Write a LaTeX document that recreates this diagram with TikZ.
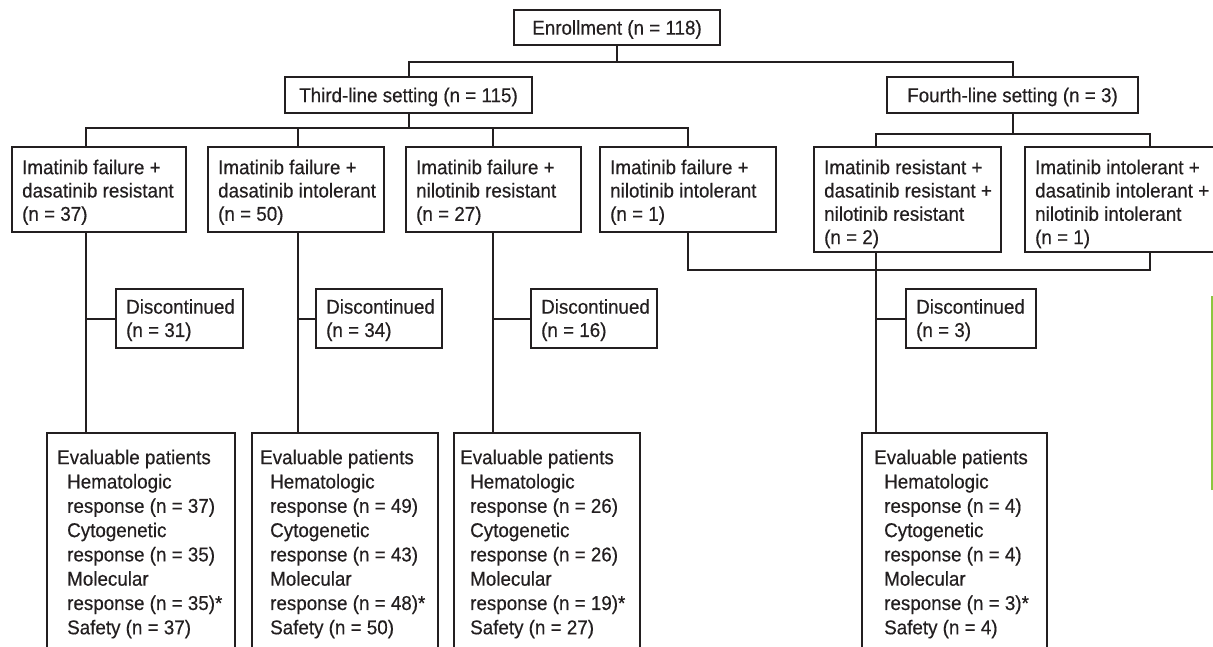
\documentclass[tikz,border=0pt]{standalone}
\usepackage{fontspec}
\setmainfont[FakeStretch=0.94,FakeBold=0.35]{Liberation Sans}
\usetikzlibrary{calc}
\definecolor{ink}{HTML}{231F20}
\definecolor{accent}{HTML}{8DC63F}
\begin{document}
\begin{tikzpicture}[x=1pt,y=-1pt,
  box/.style={draw=ink, line width=2pt, anchor=north west, inner sep=0pt, outer sep=0pt},
  titlebox/.style={box, anchor=center, text=ink, font=\fontsize{20}{23.3}\selectfont, text height=14.3pt, text depth=0pt},
  txt/.style={anchor=north west, inner sep=0pt, align=left, text=ink, font=\fontsize{20}{23.3}\selectfont},
  evtxt/.style={anchor=north west, inner sep=0pt, align=left, text=ink, font=\fontsize{20}{24.3}\selectfont},
  conn/.style={draw=ink, line width=2pt}]
\useasboundingbox (0,0) rectangle (1213,647);
\fill[white] (0,0) rectangle (1213,647);
\clip (0,0) rectangle (1213,647);

% column positions
\coordinate (c1) at (86,0);
\coordinate (c2) at (298,0);
\coordinate (c3) at (493,0);
\coordinate (c4) at (688,0);
\coordinate (c5) at (876,0);
\coordinate (c6) at (1150,0);
\coordinate (j0) at (0,62);
\coordinate (j1) at (0,128);
\coordinate (j2) at (0,134);
\coordinate (j3) at (0,270);

% top boxes
\node[titlebox, minimum width=206pt, minimum height=35pt] (enr) at (617,27.5) {Enrollment (n = 118)};
\node[titlebox, minimum width=247pt, minimum height=36pt] (third) at (408.5,95) {Third-line setting (n = 115)};
\node[titlebox, minimum width=251pt, minimum height=36pt] (fourth) at (1012.5,95) {Fourth-line setting (n = 3)};

% second-row boxes
\node[box, minimum width=174pt, minimum height=85pt] (b1) at (12,147) {};
\node[box, minimum width=176pt, minimum height=85pt] (b2) at (208,147) {};
\node[box, minimum width=175pt, minimum height=85pt] (b3) at (406,147) {};
\node[box, minimum width=176pt, minimum height=85pt] (b4) at (600,147) {};
\node[box, minimum width=187pt, minimum height=105pt] (b5) at (814,147) {};
\node[box, minimum width=200pt, minimum height=105pt] (b6) at (1025,147) {};

\node[txt] (b1t) at ($(b1.north west)+(10,12.5)$) {Imatinib failure +\\dasatinib resistant\\(n = 37)};
\node[txt] (b2t) at ($(b2.north west)+(10,12.5)$) {Imatinib failure +\\dasatinib intolerant\\(n = 50)};
\node[txt] (b3t) at ($(b3.north west)+(10,12.5)$) {Imatinib failure +\\nilotinib resistant\\(n = 27)};
\node[txt] (b4t) at ($(b4.north west)+(10,12.5)$) {Imatinib failure +\\nilotinib intolerant\\(n = 1)};
\node[txt] (b5t) at ($(b5.north west)+(10,12.5)$) {Imatinib resistant +\\dasatinib resistant +\\nilotinib resistant\\(n = 2)};
\node[txt] (b6t) at ($(b6.north west)+(10,12.5)$) {Imatinib intolerant +\\dasatinib intolerant +\\nilotinib intolerant\\(n = 1)};

% discontinued boxes
\node[box, minimum width=127pt, minimum height=59pt] (d1) at (116,289) {};
\node[box, minimum width=126pt, minimum height=59pt] (d2) at (316,289) {};
\node[box, minimum width=126pt, minimum height=59pt] (d3) at (531,289) {};
\node[box, minimum width=130pt, minimum height=59pt] (d4) at (906,289) {};
\node[txt] (d1t) at ($(d1.north west)+(10,10)$) {Discontinued\\(n = 31)};
\node[txt] (d2t) at ($(d2.north west)+(10,10)$) {Discontinued\\(n = 34)};
\node[txt] (d3t) at ($(d3.north west)+(10,10)$) {Discontinued\\(n = 16)};
\node[txt] (d4t) at ($(d4.north west)+(10,10)$) {Discontinued\\(n = 3)};

% evaluable boxes
\node[box, minimum width=188pt, minimum height=300pt] (e1) at (47,433) {};
\node[box, minimum width=186pt, minimum height=300pt] (e2) at (252,433) {};
\node[box, minimum width=186pt, minimum height=300pt] (e3) at (454,433) {};
\node[box, minimum width=185pt, minimum height=300pt] (e4) at (862,433) {};
\node[evtxt] (e1t) at ($(e1.north west)+(10,16.5)$) {Evaluable patients\\\hspace*{10pt}Hematologic\\\hspace*{10pt}response (n = 37)\\\hspace*{10pt}Cytogenetic\\\hspace*{10pt}response (n = 35)\\\hspace*{10pt}Molecular\\\hspace*{10pt}response (n = 35)*\\\hspace*{10pt}Safety (n = 37)};
\node[evtxt] (e2t) at ($(e2.north west)+(8,16.5)$) {Evaluable patients\\\hspace*{10pt}Hematologic\\\hspace*{10pt}response (n = 49)\\\hspace*{10pt}Cytogenetic\\\hspace*{10pt}response (n = 43)\\\hspace*{10pt}Molecular\\\hspace*{10pt}response (n = 48)*\\\hspace*{10pt}Safety (n = 50)};
\node[evtxt] (e3t) at ($(e3.north west)+(6,16.5)$) {Evaluable patients\\\hspace*{10pt}Hematologic\\\hspace*{10pt}response (n = 26)\\\hspace*{10pt}Cytogenetic\\\hspace*{10pt}response (n = 26)\\\hspace*{10pt}Molecular\\\hspace*{10pt}response (n = 19)*\\\hspace*{10pt}Safety (n = 27)};
\node[evtxt] (e4t) at ($(e4.north west)+(12,16.5)$) {Evaluable patients\\\hspace*{10pt}Hematologic\\\hspace*{10pt}response (n = 4)\\\hspace*{10pt}Cytogenetic\\\hspace*{10pt}response (n = 4)\\\hspace*{10pt}Molecular\\\hspace*{10pt}response (n = 3)*\\\hspace*{10pt}Safety (n = 4)};

% connectors
\draw[conn] (enr.south) -- (enr.south |- j0);
\draw[conn] (third.north) |- (j0 -| fourth.north) -- (fourth.north);
\draw[conn] (third.south) -- (third.south |- j1);
\draw[conn] (b1.north -| c1) |- (j1 -| c4) -- (b4.north -| c4);
\draw[conn] (b2.north -| c2) -- (j1 -| c2);
\draw[conn] (b3.north -| c3) -- (j1 -| c3);
\draw[conn] (fourth.south) -- (fourth.south |- j2);
\draw[conn] (b5.north -| c5) |- (j2 -| c6) -- (b6.north -| c6);
\draw[conn] (b4.south -| c4) |- (j3 -| c6) -- (b6.south -| c6);
\draw[conn] (b1.south -| c1) -- (e1.north -| c1);
\draw[conn] (b2.south -| c2) -- (e2.north -| c2);
\draw[conn] (b3.south -| c3) -- (e3.north -| c3);
\draw[conn] (b5.south -| c5) -- (e4.north -| c5);
\draw[conn] (d1.west -| c1) -- (d1.west);
\draw[conn] (d2.west -| c2) -- (d2.west);
\draw[conn] (d3.west -| c3) -- (d3.west);
\draw[conn] (d4.west -| c5) -- (d4.west);

% green margin rule
\draw[accent, line width=2.5pt] (1212,296) -- (1212,490);
\end{tikzpicture}
\end{document}
